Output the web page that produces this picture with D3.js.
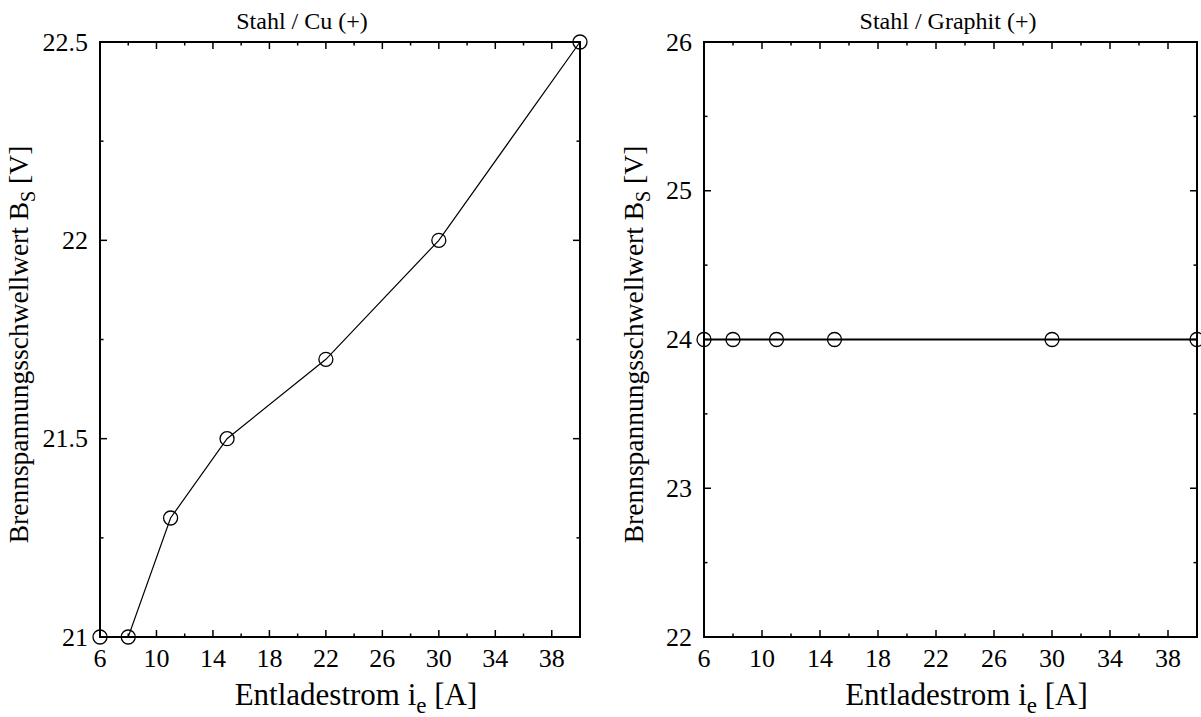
<!DOCTYPE html>
<html lang="en">
<head>
<meta charset="utf-8">
<title>Brennspannungsschwellwert</title>
<script src="https://cdn.jsdelivr.net/npm/d3@7"></script>
<style>
  body { margin: 0; background: #fff; }
  svg text { font-family: "Liberation Serif", "Times New Roman", serif; fill: #000; }
  .frame { fill: none; stroke: #000; stroke-width: 2; }
  .tick { stroke: #000; stroke-width: 1.5; }
  .pt { fill: none; stroke: #000; stroke-width: 1.3; }
</style>
</head>
<body>
<script>
// data
var cuX = [6, 8, 11, 15, 22, 30, 40];
var cuY = [21, 21, 21.3, 21.5, 21.7, 22, 22.5];

var graphitX = [6, 8, 11, 15, 30, 40];
var graphitY = [24, 24, 24, 24, 24, 24];

var xMajor = [6, 10, 14, 18, 22, 26, 30, 34, 38];
var xMinor = [8, 12, 16, 20, 24, 28, 32, 36];

var cuYMajor = [21, 21.5, 22, 22.5];
var cuYMinor = [21.25, 21.75, 22.25];
var graphitYMajor = [22, 23, 24, 25, 26];
var graphitYMinor = [22.5, 23.5, 24.5, 25.5];

var W = 1201, H = 717;

var svg = d3.select("body").append("svg")
  .attr("width", W)
  .attr("height", H)
  .attr("font-family", "Liberation Serif, serif");

function drawPanel(p) {
  var x = d3.scaleLinear().domain([6, 40]).range([p.left, p.right]);
  var y = d3.scaleLinear().domain(p.yDomain).range([p.bottom, p.top]);
  var g = svg.append("g");

  // ticks on all four sides, pointing inwards
  var maj = 7, min = 3.5;
  xMajor.forEach(function(v) {
    g.append("line").attr("class", "tick").attr("x1", x(v)).attr("x2", x(v)).attr("y1", p.bottom).attr("y2", p.bottom - maj);
    g.append("line").attr("class", "tick").attr("x1", x(v)).attr("x2", x(v)).attr("y1", p.top).attr("y2", p.top + maj);
  });
  xMinor.forEach(function(v) {
    g.append("line").attr("class", "tick").attr("x1", x(v)).attr("x2", x(v)).attr("y1", p.bottom).attr("y2", p.bottom - min);
    g.append("line").attr("class", "tick").attr("x1", x(v)).attr("x2", x(v)).attr("y1", p.top).attr("y2", p.top + min);
  });
  p.yMajor.forEach(function(v) {
    g.append("line").attr("class", "tick").attr("x1", p.left).attr("x2", p.left + maj).attr("y1", y(v)).attr("y2", y(v));
    g.append("line").attr("class", "tick").attr("x1", p.right).attr("x2", p.right - maj).attr("y1", y(v)).attr("y2", y(v));
  });
  p.yMinor.forEach(function(v) {
    g.append("line").attr("class", "tick").attr("x1", p.left).attr("x2", p.left + min).attr("y1", y(v)).attr("y2", y(v));
    g.append("line").attr("class", "tick").attr("x1", p.right).attr("x2", p.right - min).attr("y1", y(v)).attr("y2", y(v));
  });

  g.append("rect").attr("class", "frame")
    .attr("x", p.left).attr("y", p.top)
    .attr("width", p.right - p.left).attr("height", p.bottom - p.top);

  // tick labels
  g.selectAll(".xl").data(xMajor).enter().append("text")
    .attr("x", function(d) { return x(d); })
    .attr("y", p.bottom + 30)
    .attr("text-anchor", "middle")
    .style("font-size", "26px")
    .text(function(d) { return d; });

  g.selectAll(".yl").data(p.yMajor).enter().append("text")
    .attr("x", p.left - 12)
    .attr("y", function(d) { return y(d); })
    .attr("dy", "0.33em")
    .attr("text-anchor", "end")
    .style("font-size", "26px")
    .text(function(d) { return d; });

  // data line + circles
  var pts = p.xs.map(function(d, i) { return [d, p.ys[i]]; });
  g.append("path")
    .attr("d", d3.line().x(function(d) { return x(d[0]); }).y(function(d) { return y(d[1]); })(pts))
    .attr("fill", "none")
    .attr("stroke", "#000")
    .attr("stroke-width", p.lineW);
  g.selectAll(".pt").data(pts).enter().append("circle")
    .attr("class", "pt")
    .attr("cx", function(d) { return x(d[0]); })
    .attr("cy", function(d) { return y(d[1]); })
    .attr("r", 7);

  // title
  g.append("text")
    .attr("x", p.titleX)
    .attr("y", 29)
    .attr("text-anchor", "middle")
    .style("font-size", "24px")
    .text(p.title);

  // x label
  var xl = g.append("text")
    .attr("x", (p.left + p.right) / 2 + 16)
    .attr("y", 705)
    .attr("text-anchor", "middle")
    .style("font-size", "31px");
  xl.append("tspan").text("Entladestrom i");
  xl.append("tspan").attr("dy", 8).style("font-size", "23px").text("e");
  xl.append("tspan").attr("dy", -8).text(" [A]");

  // y label
  var yl = g.append("text")
    .attr("transform", "translate(" + p.yLabelX + "," + ((p.top + p.bottom) / 2 + 5) + ") rotate(-90)")
    .attr("text-anchor", "middle")
    .attr("dy", "0.35em")
    .style("font-size", "27.5px");
  yl.append("tspan").text("Brennspannungsschwellwert B");
  yl.append("tspan").attr("dy", 7).style("font-size", "20px").text("S");
  yl.append("tspan").attr("dy", -7).text(" [V]");
}

drawPanel({
  left: 100, right: 580, top: 42, bottom: 637,
  yDomain: [21, 22.5], yMajor: cuYMajor, yMinor: cuYMinor,
  xs: cuX, ys: cuY, lineW: 1.2,
  title: "Stahl / Cu (+)", titleX: 302, yLabelX: 18
});

drawPanel({
  left: 704, right: 1197, top: 42, bottom: 637,
  yDomain: [22, 26], yMajor: graphitYMajor, yMinor: graphitYMinor,
  xs: graphitX, ys: graphitY, lineW: 2,
  title: "Stahl / Graphit (+)", titleX: 948, yLabelX: 633
});
</script>
</body>
</html>
